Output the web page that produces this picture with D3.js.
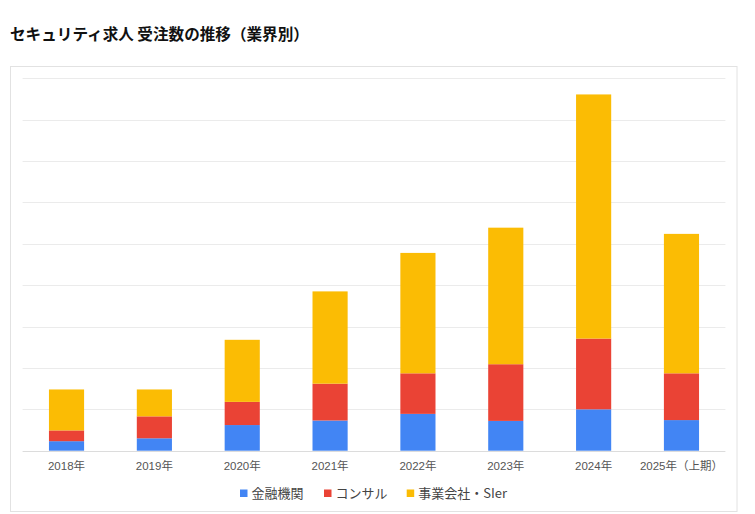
<!DOCTYPE html>
<html><head><meta charset="utf-8">
<script src="https://cdn.jsdelivr.net/npm/d3@7"></script>
<style>
html,body{margin:0;padding:0;background:#fff;}
svg{display:block;}
</style></head>
<body>
<svg id="chart" width="755" height="514"></svg>
<script>
const categories = ["2018年","2019年","2020年","2021年","2022年","2023年","2024年","2025年（上期）"];
const seriesNames = ["金融機関","コンサル","事業会社・SIer"];
const finance  = [23, 30, 62, 73, 89, 72, 100, 74];
const consul   = [26, 53, 56, 89, 98, 137, 171, 113];
const business = [99, 65, 150, 223, 291, 330, 590, 337];
const colors = ["#4285F4","#EA4335","#FBBC04"];
const gridTicks = [0,100,200,300,400,500,600,700,800,900];
const title = "セキュリティ求人 受注数の推移（業界別）";

const rows = categories.map((c,i)=>({cat:c, "金融機関":finance[i], "コンサル":consul[i], "事業会社・SIer":business[i]}));
const svg = d3.select("#chart");
const plot = {left:22.6, right:725.4, top:78.3, bottom:450.7};

// title
svg.append("text").attr("x",10).attr("y",39.5)
  .attr("font-family","'Noto Sans CJK JP', sans-serif").attr("font-weight","bold")
  .attr("font-size",15.6).attr("fill","#111").text(title);

// frame
svg.append("rect").attr("x",10.5).attr("y",66.5).attr("width",726.5).attr("height",445)
  .attr("fill","#fff").attr("stroke","#e2e2e2").attr("stroke-width",1);

const x = d3.scaleBand().domain(categories).range([plot.left, plot.right]).paddingInner(0.6).paddingOuter(0.3);
const y = d3.scaleLinear().domain([0,900]).range([plot.bottom, plot.top]);

// gridlines
svg.append("g").selectAll("line").data(gridTicks).join("line")
  .attr("x1",plot.left).attr("x2",plot.right)
  .attr("y1",d=>Math.round(y(d))+0.5).attr("y2",d=>Math.round(y(d))+0.5)
  .attr("stroke",d=>d===0?"#dcdcdc":"#ebebeb").attr("stroke-width",1);

const stack = d3.stack().keys(seriesNames)(rows);
svg.append("g").selectAll("g").data(stack).join("g")
  .attr("fill",(d,i)=>colors[i])
  .selectAll("rect").data(d=>d).join("rect")
  .attr("x",d=>x(d.data.cat)).attr("width",x.bandwidth())
  .attr("y",d=>y(d[1])).attr("height",d=>y(d[0])-y(d[1]));

// x axis labels
const xAxis = d3.axisBottom(x).tickSize(0).tickPadding(11.5);
const gx = svg.append("g").attr("transform",`translate(0,${plot.bottom})`).call(xAxis);
gx.select(".domain").remove();
gx.selectAll("text").attr("font-family","'Liberation Sans','Noto Sans CJK JP',sans-serif")
  .attr("font-size",11.5).attr("fill","#555");

// legend
const legendItems = [{x:240, name:seriesNames[0]},{x:324, name:seriesNames[1]},{x:406.7, name:seriesNames[2]}];
const lg = svg.append("g");
legendItems.forEach((it,i)=>{
  lg.append("rect").attr("x",it.x).attr("y",489.5).attr("width",7.5).attr("height",7.5).attr("fill",colors[i]);
  lg.append("text").attr("x",it.x+11.5).attr("y",497.5)
    .attr("font-family","'Noto Sans CJK JP',sans-serif").attr("font-size",13).attr("fill","#444").text(it.name);
});
</script>
</body></html>
